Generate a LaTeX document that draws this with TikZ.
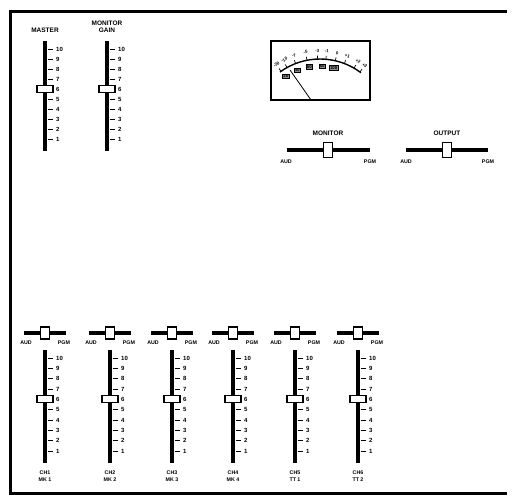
\documentclass[tikz,border=0pt]{standalone}
\usepackage{fontspec}
\setmainfont{Liberation Sans}
\usetikzlibrary{calc}

\newcommand{\lblfont}{\fontsize{6.5}{7}\selectfont\bfseries}
\newcommand{\smallfont}{\fontsize{5.3}{7}\selectfont\bfseries}
\newcommand{\numfont}{\fontsize{6}{7}\selectfont\bfseries}
\newcommand{\vufont}{\fontsize{4.4}{5}\selectfont\bfseries}

\tikzset{
  frame/.style={line width=3pt},
  track/.style={line width=3.5pt},
  tick/.style={line width=0.6pt},
  bar/.style={line width=4pt},
  vknob/.style={draw, fill=white, line width=1.2pt,
    minimum width=16pt, minimum height=7pt, inner sep=0pt},
  hknob/.style={draw, fill=white, line width=1.2pt,
    minimum width=9pt, minimum height=12pt, inner sep=0pt},
  bigknob/.style={hknob, minimum height=15pt},
  lbl/.style={font=\lblfont, inner sep=0pt, align=center},
  sml/.style={font=\smallfont, inner sep=0pt, align=center},
  num/.style={font=\numfont, inner sep=0pt, anchor=west},
  vu/.style={font=\vufont, inner sep=0pt},
}

% vertical fader: name, x, y of mark 10, mark step
\newcommand{\vfader}[4]{%
  \draw[track] (#2,{#3-8}) -- (#2,{#3+9*#4+12});
  \foreach \n in {1,...,10} {
    \draw[tick] ({#2+3},{#3+(10-\n)*#4}) -- ++(5,0);
    \node[num] (#1-n\n) at ({#2+11},{#3+(10-\n)*#4}) {\n};
  }
  \node[vknob] (#1-knob) at (#2,{#3+4*#4}) {};
}

% pan slider: name, x, y, half bar, knob style, label dx, label dy, label style
\newcommand{\panfader}[8]{%
  \draw[bar] ({#2-#4},#3) -- ({#2+#4},#3);
  \node[#5] (#1-knob) at (#2,#3) {};
  \node[#8] (#1-aud) at ({#2-#6},{#3+#7}) {AUD};
  \node[#8] (#1-pgm) at ({#2+#6},{#3+#7}) {PGM};
}

\begin{document}
\begin{tikzpicture}[x=1pt, y=-1pt]
  \useasboundingbox (0,0) rectangle (515,501);

  % panel frame, open on the right
  \draw[frame] (507,11) -- (10,11) -- (10,493) -- (507,493);

  % master and monitor gain
  \node[lbl] (master) at (45,30) {MASTER};
  \vfader{mst}{45}{49}{10}
  \node[lbl] (mongain) at (107,27) {MONITOR\\GAIN};
  \vfader{mgn}{107}{49}{10}

  % VU meter
  \node[draw, line width=1.2pt, minimum width=99pt, minimum height=59pt,
    inner sep=0pt] (meter) at (320.5,70.5) {};
  \coordinate (vuc) at (320,127);
  \draw[line width=1.4pt] ($(vuc)+(126:68pt)$)
    arc[start angle=126, end angle=53, radius=68pt];
  \foreach \a in {125,119,111,101,92,85,77,69,60,54}
    \draw[line width=0.7pt] ($(vuc)+(\a:68pt)$) -- ($(vuc)+(\a:71.5pt)$);
  \foreach \a/\t [count=\k] in {125/-20, 118/-10, 110/-7, 101/-5, 92/-3,
      85/-1, 77/0, 69/+1, 60/+2, 54/+3}
    \node[vu, rotate={\a-90}] (vs\k) at ($(vuc)+(\a:76pt)$) {\t};
  \foreach \a/\t [count=\k] in {124/20, 112/40, 100/60, 88/80, 77/100}
    \node[vu, draw, fill=black!45, line width=0.5pt, inner sep=0.7pt]
      (vp\k) at ($(vuc)+(\a:61pt)$) {\t};
  \coordinate (npivot) at (311,100);
  \coordinate (ntip) at (290,70);
  \draw[line width=0.8pt] (npivot) -- (ntip);

  % monitor and output selectors
  \node[lbl] (monlbl) at (328,133) {MONITOR};
  \panfader{mon}{328}{150}{41.5}{bigknob}{42}{12}{sml}
  \node[lbl] (outlbl) at (447,133) {OUTPUT};
  \panfader{out}{447}{150}{41}{bigknob}{41}{12}{sml}

  % channel strips
  \foreach \x/\i/\cha/\chb in {45/1/CH1/MK 1, 110/2/CH2/MK 2, 172/3/CH3/MK 3,
      233/4/CH4/MK 4, 295/5/CH5/TT 1, 358/6/CH6/TT 2} {
    \panfader{p\i}{\x}{333}{21}{hknob}{19}{10}{sml}
    \vfader{ch\i}{\x}{358}{10.33}
    \node[sml] (chl\i) at (\x,476.5) {\cha\\\chb};
  }
\end{tikzpicture}
\end{document}
